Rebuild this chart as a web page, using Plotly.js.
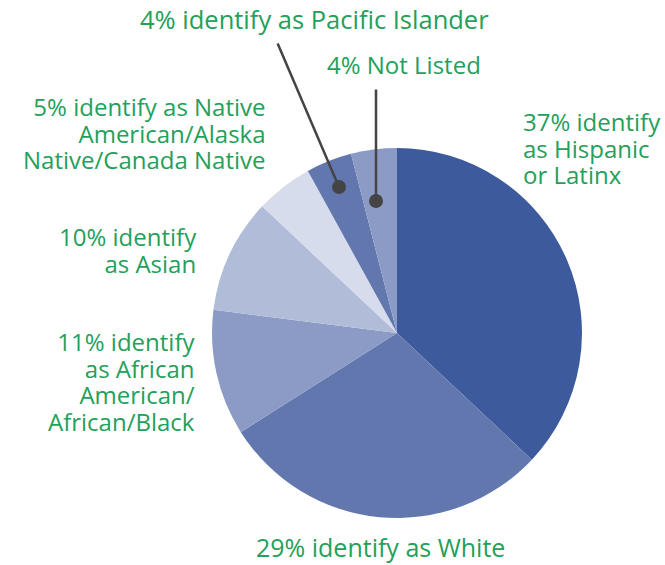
<!DOCTYPE html>
<html>
<head>
<meta charset="utf-8">
<script src="https://cdn.plot.ly/plotly-3.0.1.min.js"></script>
<style>html,body{margin:0;padding:0;background:#fff;}#chart{width:665px;height:565px;}</style>
</head>
<body>
<div id="chart"></div>
<script>
const categories = ["Hispanic or Latinx", "White", "African American/African/Black", "Asian", "Native American/Alaska Native/Canada Native", "Pacific Islander", "Not Listed"];
const values = [37, 29, 11, 10, 5, 4, 4];
const colors = ["#3c5a9c", "#6277ae", "#8b9bc6", "#b1bcd9", "#d7dcec", "#6277ae", "#8b9bc6"];
const labelLines = [
  ["37% identify", "as Hispanic", "or Latinx"],
  ["29% identify as White"],
  ["11% identify", "as African", "American/", "African/Black"],
  ["10% identify", "as Asian"],
  ["5% identify as Native", "American/Alaska", "Native/Canada Native"],
  ["4% identify as Pacific Islander"],
  ["4% Not Listed"]
];

const W = 665, H = 565;
const px = x => x / W;
const py = y => 1 - y / H;
const green = "#23a05a";
const LH = 26.5;              // line pitch in the reference
const baseSize = LH / 1.3;    // Plotly line spacing is 1.3em of the base font

const labelPos = [
  {x: 522, y: 122, xa: "left", size: 24},
  {x: 381, y: 548, xa: "center", size: 25},
  {x: 196, y: 343, xa: "right", size: 24},
  {x: 198, y: 238, xa: "right", size: 24},
  {x: 267, y: 107, xa: "right", size: 24},
  {x: 314, y: 20, xa: "center", size: 25.5},
  {x: 404, y: 65, xa: "center", size: 24}
];

const annotations = labelLines.map((lines, i) => {
  const p = labelPos[i];
  const multi = lines.length > 1;
  const text = multi
    ? lines.map(t => `<span style="font-size:${p.size}px">${t}</span>`).join("<br>")
    : lines[0];
  return {
    text: text, xref: "paper", yref: "paper",
    x: px(p.x), y: py(p.y + (lines.length - 1) * LH / 2 - 1),
    xanchor: p.xa, yanchor: "middle", align: p.xa,
    showarrow: false, borderpad: 0,
    font: {family: "Open Sans, sans-serif", size: multi ? baseSize : p.size, color: green}
  };
});
// keep the bottom label inside the picture
annotations[1].y = 0;
annotations[1].yanchor = "bottom";

// leader lines with dot ends
annotations.push({
  text: "", xref: "paper", yref: "paper", x: px(339), y: py(187),
  ax: 277 - 339, ay: 42 - 187, showarrow: true, arrowhead: 6, arrowsize: 1.4,
  arrowwidth: 2.5, arrowcolor: "#444444", standoff: 0, startstandoff: 0
});
annotations.push({
  text: "", xref: "paper", yref: "paper", x: px(376), y: py(201),
  ax: 0, ay: 88 - 201, showarrow: true, arrowhead: 6, arrowsize: 1.4,
  arrowwidth: 2.5, arrowcolor: "#444444", standoff: 0, startstandoff: 0
});

const data = [{
  type: "pie",
  labels: categories,
  values: values,
  sort: false,
  direction: "clockwise",
  rotation: 0,
  marker: {colors: colors, line: {width: 0}},
  textinfo: "none",
  hoverinfo: "label+percent",
  domain: {x: [px(212), px(582)], y: [py(518), py(148)]}
}];

const layout = {
  width: W, height: H,
  margin: {l: 0, r: 0, t: 0, b: 0},
  paper_bgcolor: "#ffffff",
  showlegend: false,
  annotations: annotations
};

Plotly.newPlot("chart", data, layout, {displayModeBar: false, staticPlot: true});
</script>
</body>
</html>
